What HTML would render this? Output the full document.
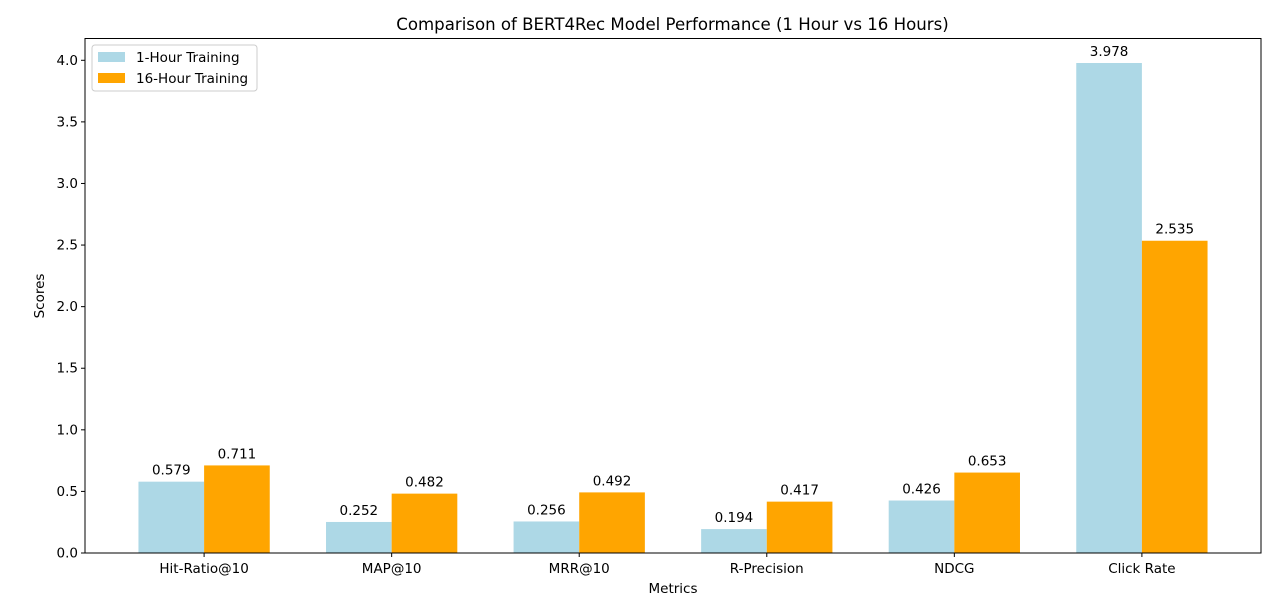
<!DOCTYPE html>
<html><head><meta charset="utf-8"><style>
body{margin:0;background:#fff;}
svg{display:block;font-family:"DejaVu Sans","Liberation Sans",sans-serif;}
</style></head><body>
<svg id="chart" width="1280" height="612" viewBox="0 0 1280 612">
<rect width="1280" height="612" fill="#fff"/>
<text x="672.5" y="30" font-size="16.6" text-anchor="middle" fill="#000">Comparison of BERT4Rec Model Performance (1 Hour vs 16 Hours)</text>
<g id="plot"></g>
<rect x="85" y="38.5" width="1176" height="514.5" fill="none" stroke="#000" stroke-width="1"/>
<text x="673" y="593" font-size="13.5" text-anchor="middle">Metrics</text>
<text transform="translate(44,296) rotate(-90)" font-size="13.5" text-anchor="middle">Scores</text>
<g>
<rect x="92" y="45" width="165" height="46" rx="3" fill="#fff" fill-opacity="0.8" stroke="#ccc"/>
<rect x="98" y="52" width="27" height="10" fill="#add8e6"/>
<text x="136" y="62" font-size="13.5">1-Hour Training</text>
<rect x="98" y="73" width="27" height="10" fill="#ffa500"/>
<text x="136" y="83" font-size="13.5">16-Hour Training</text>
</g>
</svg>
<script>
const categories=["Hit-Ratio@10","MAP@10","MRR@10","R-Precision","NDCG","Click Rate"];
const oneHour=[0.579,0.252,0.256,0.194,0.426,3.978];
const sixteenHour=[0.711,0.482,0.492,0.417,0.653,2.535];
const yTicks=[0,0.5,1.0,1.5,2.0,2.5,3.0,3.5,4.0];

const L=85,R=1261,T=38.5,B=553;
const allVals=oneHour.concat(sixteenHour);
const ymax=Math.max(...allVals)*1.05;
const xmin=-0.635, xmax=categories.length-1+0.635;
const xs=v=>L+(v-xmin)/(xmax-xmin)*(R-L);
const ys=v=>B-v/ymax*(B-T);
const ns="http://www.w3.org/2000/svg";
const g=document.getElementById('plot');
function mk(tag,attrs,txt){const e=document.createElementNS(ns,tag);for(const k in attrs)e.setAttribute(k,attrs[k]);if(txt!==undefined)e.textContent=txt;g.appendChild(e);return e;}
const bw=0.35;
function series(vals,color,off,name){
  vals.forEach((v,i)=>{
    const x0=xs(i+off-bw/2),x1=xs(i+off+bw/2);
    const r=mk('rect',{x:x0,y:ys(v),width:x1-x0,height:B-ys(v),fill:color});
    
    
    const t=mk('text',{x:(x0+x1)/2,y:ys(v)-7,'font-size':13.5,'text-anchor':'middle'},v.toFixed(3));
    
    
  });
}
series(oneHour,'#add8e6',-bw/2,'1h');
series(sixteenHour,'#ffa500',bw/2,'16h');
yTicks.forEach(v=>{
  const y=ys(v);
  const l=mk('line',{x1:L-4,x2:L,y1:y,y2:y,stroke:'#000'});
  
  
  const t=mk('text',{x:L-7,y:y+4.5,'font-size':13.5,'text-anchor':'end'},v.toFixed(1));
  
  
});
categories.forEach((c,i)=>{
  const x=xs(i);
  const l=mk('line',{x1:x,x2:x,y1:B,y2:B+4,stroke:'#000'});
  
  
  const t=mk('text',{x:x,y:B+20,'font-size':13.5,'text-anchor':'middle'},c);
  
  
});
</script>
</body></html>
